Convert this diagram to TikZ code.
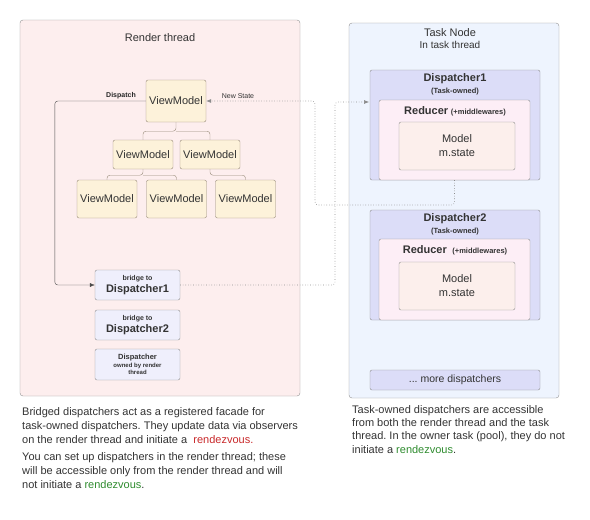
\documentclass[tikz,border=0pt]{standalone}
\usepackage{fontspec}
\setmainfont{Liberation Sans}
\usepackage{xcolor}
\usetikzlibrary{positioning,arrows.meta}
\frenchspacing

\definecolor{rendfill}{HTML}{FDEEEE}
\definecolor{taskfill}{HTML}{EEF4FE}
\definecolor{boxline}{HTML}{909090}
\definecolor{vmfill}{HTML}{FDF2DA}
\definecolor{vmline}{HTML}{968A78}
\definecolor{bridgefill}{HTML}{EFEFFC}
\definecolor{dispfill}{HTML}{DCDDF8}
\definecolor{redfill}{HTML}{FDEEF6}
\definecolor{modelfill}{HTML}{FCEFEC}
\definecolor{txt}{HTML}{333333}
\definecolor{rdvred}{HTML}{C8282A}
\definecolor{rdvgreen}{HTML}{2E8B2E}

\begin{document}
\begin{tikzpicture}[x=1pt,y=-1pt,>={Latex[length=5pt,width=4pt]},thin,text=txt,
    area/.style={draw=boxline,rounded corners=3pt},
    vm node/.style={draw=vmline,fill=vmfill,rounded corners=2pt,minimum width=60pt,inner sep=0pt,font=\fontsize{11}{13}\selectfont},
    bridge node/.style={draw=boxline,fill=bridgefill,rounded corners=2pt,minimum width=85pt,inner sep=0pt,align=center,font=\bfseries},
    disp node/.style={draw=boxline,fill=dispfill,rounded corners=2pt,inner sep=0pt},
    red node/.style={draw=boxline,fill=redfill,rounded corners=2pt,inner sep=0pt},
    model node/.style={draw=boxline,fill=modelfill,rounded corners=2pt,inner sep=0pt,align=center,font=\fontsize{11}{14}\selectfont},
    tree/.style={draw=vmline,rounded corners=3pt},
    flow/.style={draw=black!70,rounded corners=3pt},
    dotflow/.style={draw=black!45,dotted,line width=0.6pt,rounded corners=3pt},
    para/.style={anchor=north west,align=left,inner sep=0pt,font=\fontsize{11}{14}\selectfont}]

    \useasboundingbox (0,0) rectangle (590,520);

    % thread areas
    \draw[area,fill=rendfill] (20,20) rectangle (300,396);
    \draw[area,fill=taskfill] (349,23) rectangle (559,398);
    \node (rendtitle) at (160,38) {\fontsize{11}{13}\selectfont Render thread};
    \node[align=center] (tasktitle) at (450,39) {\fontsize{11}{12.5}\selectfont Task Node\\In task thread};

    % view model tree
    \node[vm node,minimum height=42pt] (vm1) at (176,101) {ViewModel};
    \node[vm node,minimum height=29pt] (vm2a) at (143,154.5) {ViewModel};
    \node[vm node,minimum height=29pt] (vm2b) at (210,154.5) {ViewModel};
    \node[vm node,minimum height=38pt] (vm3a) at (107,199) {ViewModel};
    \node[vm node,minimum height=38pt] (vm3b) at (176.5,199) {ViewModel};
    \node[vm node,minimum height=38pt] (vm3c) at (245.5,199) {ViewModel};

    \path (vm1.south) ++(0,9) coordinate (j1);
    \path (vm2a.south) ++(0,6) coordinate (j2);
    \path (vm2b.south) ++(0,6) coordinate (j3);
    \draw[tree] (vm1.south) -- (j1) -| (vm2a.north);
    \draw[tree] (j1) -| (vm2b.north);
    \draw[tree] (vm2a.south) -- (j2) -| (vm3a.north);
    \draw[tree] (j2) -| (vm3b.north);
    \draw[tree] (vm2b.south) -- (j3) -| (vm3c.north);

    % bridges
    \node[bridge node,minimum height=30pt] (b1) at (137.5,285) {{\fontsize{7}{9}\selectfont bridge to}\\{\fontsize{11}{12}\selectfont Dispatcher1}};
    \node[bridge node,minimum height=30pt] (b2) at (137.5,325) {{\fontsize{7}{9}\selectfont bridge to}\\{\fontsize{11}{12}\selectfont Dispatcher2}};
    \node[bridge node,minimum height=31pt,font=\bfseries\fontsize{6}{7.5}\selectfont] (own) at (137.5,364.5) {{\fontsize{7.5}{8.5}\selectfont Dispatcher}\\owned by render\\thread};

    % task owned dispatchers
    \node[disp node,minimum width=170pt,minimum height=110pt] (d1) at (455,125) {};
    \node[red node,minimum width=151pt,minimum height=80pt] (r1) at (454.5,140) {};
    \node[model node,minimum width=116pt,minimum height=48pt] (m1) at (457,146) {Model\\m.state};
    \node[font=\bfseries,align=center] (d1lbl) at (455,84) {{\fontsize{11}{12}\selectfont Dispatcher1}\\{\fontsize{7.5}{9}\selectfont (Task-owned)}};
    \node[font=\bfseries] (r1lbl) at (455,111) {{\fontsize{11}{12}\selectfont Reducer} {\fontsize{7.5}{9}\selectfont (+middlewares)}};

    \node[disp node,minimum width=170pt,minimum height=110pt] (d2) at (455,265) {};
    \node[red node,minimum width=151pt,minimum height=81pt] (r2) at (454.5,279.5) {};
    \node[model node,minimum width=116pt,minimum height=48pt] (m2) at (457,286) {Model\\m.state};
    \node[font=\bfseries,align=center] (d2lbl) at (455,224) {{\fontsize{11}{12}\selectfont Dispatcher2}\\{\fontsize{7.5}{9}\selectfont (Task-owned)}};
    \node[font=\bfseries] (r2lbl) at (455,250) {{\fontsize{11}{12}\selectfont Reducer}\; {\fontsize{7.5}{9}\selectfont (+middlewares)}};

    \node[disp node,minimum width=170pt,minimum height=20pt,font=\fontsize{10.5}{12}\selectfont] (more) at (455,380) {... more dispatchers};

    % connectors
    \coordinate (d1in) at (369,102);
    \draw[flow,->] (vm1.west) -- ++(-91,0) |- (b1.west);
    \node[font=\bfseries\fontsize{7}{8}\selectfont,text=black!85] (dlbl) at (121,96) {Dispatch};
    \draw[dotflow,->] (r1.south) |- (315,205) |- (vm1.east);
    \node[font=\fontsize{7}{8}\selectfont] (nslbl) at (238,96) {New State};
    \draw[dotflow,->] (b1.east) -| (335,150) |- (d1in);

    % notes
    \node[para] (note1) at (22,407) {Bridged dispatchers act as a registered facade for\\task-owned dispatchers. They update data via observers\\on the render thread and initiate a \ \textcolor{rdvred}{rendezvous.}};
    \node[para] (note2) at (22,452) {You can set up dispatchers in the render thread; these\\will be accessible only from the render thread and will\\not initiate a \textcolor{rdvgreen}{rendezvous}.};
    \node[para,font=\fontsize{11}{13.4}\selectfont] (note3) at (352,405) {Task-owned dispatchers are accessible\\from both the render thread and the task\\thread. In the owner task (pool), they do not\\initiate a \textcolor{rdvgreen}{rendezvous}.};
\end{tikzpicture}
\end{document}
